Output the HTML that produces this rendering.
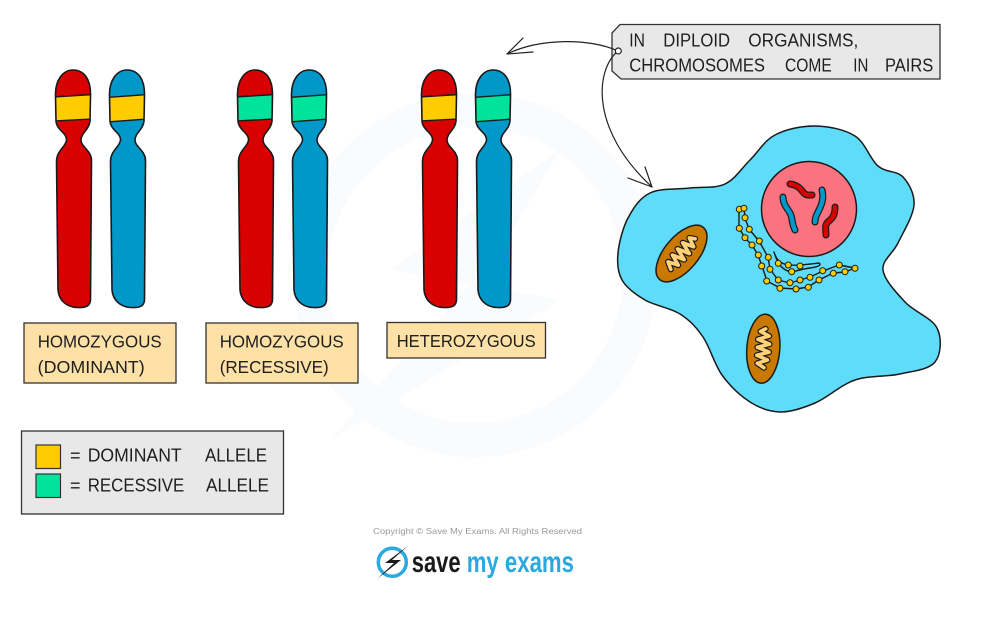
<!DOCTYPE html>
<html>
<head>
<meta charset="utf-8">
<style>
html,body{margin:0;padding:0;background:#fff;}
svg{display:block;}
text{font-family:"Liberation Sans",sans-serif;fill:#1e1e1e;}
</style>
</head>
<body>
<svg width="990" height="617" viewBox="0 0 990 617" xmlns="http://www.w3.org/2000/svg">
<defs>
<path id="chr" d="M0.5,96 C0,80 8,70 18,70 C29,70 36,79 35.5,96 L35,121 C34,130 26,133 26,140 C26,147 36,150 36.5,160 L35.5,300 C35,306 31,308 22,307.5 C11,307 4,300 3,290 L1.5,162 C1.5,150 11,147 11.5,140 C12,133 1.5,130 1,121 Z"/>
<clipPath id="cc"><use href="#chr"/></clipPath>
</defs>

<!-- faint watermark -->
<circle cx="475" cy="275" r="165" fill="none" stroke="#f9fbfd" stroke-width="34"/>
<polygon points="560,150 390,270 470,285 330,440 560,300 480,285" fill="#f9fbfd"/>

<!-- chromosomes pair 1 -->
<g transform="translate(55,0)"><use href="#chr" fill="#d80000"/><g clip-path="url(#cc)"><path d="M-2,97 L38,94.5 L38,119 L-2,121 Z" fill="#ffcc00" stroke="#1a1a1a" stroke-width="1.4"/></g><use href="#chr" fill="none" stroke="#1a1a1a" stroke-width="1.6"/></g>
<g transform="translate(109,0)"><use href="#chr" fill="#0097c9"/><g clip-path="url(#cc)"><path d="M-2,97.5 L38,94.5 L38,119 L-2,122 Z" fill="#ffcc00" stroke="#1a1a1a" stroke-width="1.4"/></g><use href="#chr" fill="none" stroke="#1a1a1a" stroke-width="1.6"/></g>
<!-- pair 2 -->
<g transform="translate(237,0)"><use href="#chr" fill="#d80000"/><g clip-path="url(#cc)"><path d="M-2,97 L38,94.5 L38,119 L-2,121 Z" fill="#00e39a" stroke="#1a1a1a" stroke-width="1.4"/></g><use href="#chr" fill="none" stroke="#1a1a1a" stroke-width="1.6"/></g>
<g transform="translate(291,0)"><use href="#chr" fill="#0097c9"/><g clip-path="url(#cc)"><path d="M-2,97.5 L38,94.5 L38,119 L-2,122 Z" fill="#00e39a" stroke="#1a1a1a" stroke-width="1.4"/></g><use href="#chr" fill="none" stroke="#1a1a1a" stroke-width="1.6"/></g>
<!-- pair 3 -->
<g transform="translate(421,0)"><use href="#chr" fill="#d80000"/><g clip-path="url(#cc)"><path d="M-2,97 L38,94.5 L38,119 L-2,121 Z" fill="#ffcc00" stroke="#1a1a1a" stroke-width="1.4"/></g><use href="#chr" fill="none" stroke="#1a1a1a" stroke-width="1.6"/></g>
<g transform="translate(475,0)"><use href="#chr" fill="#0097c9"/><g clip-path="url(#cc)"><path d="M-2,97.5 L38,94.5 L38,119 L-2,122 Z" fill="#00e39a" stroke="#1a1a1a" stroke-width="1.4"/></g><use href="#chr" fill="none" stroke="#1a1a1a" stroke-width="1.6"/></g>

<!-- label boxes -->
<rect x="24" y="323" width="152" height="60" fill="#fde1a6" stroke="#333" stroke-width="1.3"/>
<text x="37.7" y="347.7" font-size="17.5" textLength="124" lengthAdjust="spacingAndGlyphs">HOMOZYGOUS</text>
<text x="37.7" y="373" font-size="17.5" textLength="107" lengthAdjust="spacingAndGlyphs">(DOMINANT)</text>

<rect x="206" y="323" width="152" height="60" fill="#fde1a6" stroke="#333" stroke-width="1.3"/>
<text x="219.7" y="347.7" font-size="17.5" textLength="124" lengthAdjust="spacingAndGlyphs">HOMOZYGOUS</text>
<text x="219.7" y="373" font-size="17.5" textLength="109" lengthAdjust="spacingAndGlyphs">(RECESSIVE)</text>

<rect x="387" y="322.5" width="158.5" height="35.5" fill="#fde1a6" stroke="#333" stroke-width="1.3"/>
<text x="396.7" y="347" font-size="17.5" textLength="139" lengthAdjust="spacingAndGlyphs">HETEROZYGOUS</text>

<!-- legend -->
<rect x="21.5" y="431" width="262" height="83" fill="#e8e8e8" stroke="#333" stroke-width="1.3"/>
<rect x="36" y="445" width="24.5" height="23.5" fill="#ffcc00" stroke="#333" stroke-width="1.2"/>
<rect x="36" y="474" width="24.5" height="23.5" fill="#00e39a" stroke="#333" stroke-width="1.2"/>
<text x="70" y="461.7" font-size="18">=</text>
<text x="87.7" y="461.7" font-size="18" textLength="94" lengthAdjust="spacingAndGlyphs">DOMINANT</text>
<text x="205" y="461.7" font-size="18" textLength="62" lengthAdjust="spacingAndGlyphs">ALLELE</text>
<text x="70" y="491.7" font-size="18">=</text>
<text x="87.7" y="491.7" font-size="18" textLength="96.6" lengthAdjust="spacingAndGlyphs">RECESSIVE</text>
<text x="206" y="491.7" font-size="18" textLength="63" lengthAdjust="spacingAndGlyphs">ALLELE</text>

<!-- top tag label -->
<polygon points="620,24.5 940,24.5 940,79 621,79 612,71 612,33" fill="#e8e8e8" stroke="#333" stroke-width="1.3"/>
<text x="629.3" y="46.7" font-size="18" textLength="15.7" lengthAdjust="spacingAndGlyphs">IN</text>
<text x="663.3" y="46.7" font-size="18" textLength="66.7" lengthAdjust="spacingAndGlyphs">DIPLOID</text>
<text x="748.3" y="46.7" font-size="18" textLength="110" lengthAdjust="spacingAndGlyphs">ORGANISMS,</text>
<text x="629.3" y="71.7" font-size="18" textLength="135.7" lengthAdjust="spacingAndGlyphs">CHROMOSOMES</text>
<text x="785" y="71.7" font-size="18" textLength="46.7" lengthAdjust="spacingAndGlyphs">COME</text>
<text x="853.3" y="71.7" font-size="18" textLength="15" lengthAdjust="spacingAndGlyphs">IN</text>
<text x="885" y="71.7" font-size="18" textLength="48.3" lengthAdjust="spacingAndGlyphs">PAIRS</text>

<!-- arrows -->
<g fill="none" stroke="#222" stroke-width="1.2" stroke-linecap="round">
<path d="M618,51 C590,38 540,38 507,54"/>
<path d="M507,54 L523,38 M507,54 L533,52"/>
<path d="M618,51 C595,70 590,130 652,187"/>
<path d="M652,187 L645,167 M652,187 L628,178"/>
</g>
<circle cx="618.3" cy="51" r="3" fill="#fff" stroke="#222" stroke-width="1.2"/>

<!-- cell -->
<path d="M618,253 C619,242.7 622.7,228 628,218 C633.3,208 639.7,198 650,193 C660.3,188 677.5,189.5 690,188 C702.5,186.5 715,188.7 725,184 C735,179.3 741.7,168.2 750,160 C758.3,151.8 764.2,140.7 775,135 C785.8,129.3 801.7,125.8 815,126 C828.3,126.2 844.5,129.3 855,136 C865.5,142.7 870,159.2 878,166 C886,172.8 897,170.5 903,177 C909,183.5 914.8,194 914,205 C913.2,216 903.2,232.2 898,243 C892.8,253.8 881.8,260.2 883,270 C884.2,279.8 896,292.3 905,302 C914,311.7 932,318 937,328 C942,338 941.2,354.3 935,362 C928.8,369.7 913.3,371 900,374 C886.7,377 869.2,375.2 855,380 C840.8,384.8 827.5,397.7 815,403 C802.5,408.3 790.8,412.2 780,412 C769.2,411.8 759.7,408.2 750,402 C740.3,395.8 729.8,385.8 722,375 C714.2,364.2 710,347.2 703,337 C696,326.8 689.7,320.2 680,314 C670.3,307.8 654.7,305.7 645,300 C635.3,294.3 626.5,287.8 622,280 C617.5,272.2 617,263.3 618,253 Z" fill="#5fdcf9" stroke="#1a1a1a" stroke-width="1.5"/>

<!-- nucleus -->
<circle cx="809" cy="209" r="47.5" fill="#fc7380" stroke="#1a1a1a" stroke-width="1.5"/>
<g fill="none" stroke-linecap="round" stroke-linejoin="round">
<g stroke="#1a1a1a" stroke-width="7">
<path d="M790,184 C797,185 800,188 803,192 S809,195 812,195"/>
<path d="M783,197 C783,204 787,208 790,213 S791,222 795,230"/>
<path d="M822,190 C824,198 822,204 819,210 S815,218 815,222"/>
<path d="M835,207 C835,213 834,217 829,221 S826,229 826,235"/>
</g>
<path d="M790,184 C797,185 800,188 803,192 S809,195 812,195" stroke="#d80000" stroke-width="4.6"/>
<path d="M783,197 C783,204 787,208 790,213 S791,222 795,230" stroke="#0097c9" stroke-width="4.6"/>
<path d="M822,190 C824,198 822,204 819,210 S815,218 815,222" stroke="#0097c9" stroke-width="4.6"/>
<path d="M835,207 C835,213 834,217 829,221 S826,229 826,235" stroke="#d80000" stroke-width="4.6"/>
</g>

<!-- ER -->
<g fill="none" stroke="#1a1a1a" stroke-width="1.4" stroke-linejoin="round">
<polyline points="739,209 739,228 745,238 752,245 758,255 762,266 767,281 780,288 796,289 808,287 819,280 833,273 845,272 855,268"/>
<polyline points="744,208 745,218 749,229 759,241 768,257 770,269 778,280 790,283 800,280 810,277 823,271 839,265 855,268"/>
<path d="M774,252 C776,258 778,263 788,265 C796,266 810,264 819,263 C822,265 818,267 810,268 C802,269 796,271 792,272 C784,271 778,266 774,252 Z"/>
<polyline points="739,209 744,208"/>
</g>
<g fill="#ffcc00" stroke="#1a1a1a" stroke-width="1">
<circle cx="739.3" cy="209.3" r="3"/><circle cx="744" cy="208.3" r="3"/>
<circle cx="745" cy="217.7" r="3"/><circle cx="739.3" cy="228.3" r="3"/>
<circle cx="749.3" cy="229.3" r="3"/><circle cx="745" cy="237.7" r="3"/>
<circle cx="759.3" cy="241" r="3"/><circle cx="752" cy="245" r="3"/>
<circle cx="758.3" cy="255" r="3"/><circle cx="768.3" cy="257.3" r="3"/>
<circle cx="761.7" cy="266" r="3"/><circle cx="770" cy="269.3" r="3"/>
<circle cx="778.3" cy="263.3" r="3"/><circle cx="788.3" cy="265" r="3"/>
<circle cx="800" cy="266" r="3"/><circle cx="791.7" cy="271.7" r="3"/>
<circle cx="766.7" cy="281" r="3"/><circle cx="778.3" cy="280" r="3"/>
<circle cx="780" cy="288.3" r="3"/><circle cx="790" cy="282.7" r="3"/>
<circle cx="796" cy="289" r="3"/><circle cx="800" cy="280" r="3"/>
<circle cx="808.3" cy="287.3" r="3"/><circle cx="810" cy="277.3" r="3"/>
<circle cx="819" cy="280" r="3"/><circle cx="822.7" cy="270.7" r="3"/>
<circle cx="833.3" cy="273.3" r="3"/><circle cx="839.3" cy="265" r="3"/>
<circle cx="845" cy="271.7" r="3"/><circle cx="855" cy="268.3" r="3"/>
</g>

<!-- mitochondria -->
<g transform="translate(681.5,253.5) rotate(-50)">
<ellipse cx="0" cy="0" rx="34" ry="17" fill="#c97800" stroke="#1a1a1a" stroke-width="1.5"/>
<path d="M-19,2 L-15,-5 L-11,5 L-7,-6 L-3,6 L1,-6 L5,6 L9,-6 L13,5 L17,-4 L20,1" fill="none" stroke="#1a1a1a" stroke-width="6" stroke-linejoin="round" stroke-linecap="round"/>
<path d="M-19,2 L-15,-5 L-11,5 L-7,-6 L-3,6 L1,-6 L5,6 L9,-6 L13,5 L17,-4 L20,1" fill="none" stroke="#ffd27a" stroke-width="3.6" stroke-linejoin="round" stroke-linecap="round"/>
</g>
<g transform="translate(763.3,348.7) rotate(-86)">
<ellipse cx="0" cy="0" rx="34.5" ry="16.5" fill="#c97800" stroke="#1a1a1a" stroke-width="1.5"/>
<path d="M-19,2 L-15,-5 L-11,5 L-7,-6 L-3,6 L1,-6 L5,6 L9,-6 L13,5 L17,-4 L20,1" fill="none" stroke="#1a1a1a" stroke-width="6" stroke-linejoin="round" stroke-linecap="round"/>
<path d="M-19,2 L-15,-5 L-11,5 L-7,-6 L-3,6 L1,-6 L5,6 L9,-6 L13,5 L17,-4 L20,1" fill="none" stroke="#ffd27a" stroke-width="3.6" stroke-linejoin="round" stroke-linecap="round"/>
</g>

<!-- copyright and logo -->
<text x="373" y="534" font-size="8.5" textLength="209" lengthAdjust="spacingAndGlyphs" style="fill:#9a9a9a">Copyright © Save My Exams. All Rights Reserved</text>
<circle cx="392.3" cy="562.3" r="14" fill="none" stroke="#2aa9e0" stroke-width="3.5"/>
<polygon points="408,546 385,563 394,563 377,579 401,560 392,560" fill="#1a1a1a"/>
<text x="411.7" y="572" font-size="30" font-weight="bold" textLength="49" lengthAdjust="spacingAndGlyphs" style="fill:#1a1a1a">save</text>
<text x="466.7" y="572" font-size="30" font-weight="bold" textLength="107.3" lengthAdjust="spacingAndGlyphs" style="fill:#2aa9e0">my exams</text>
</svg>
</body>
</html>
